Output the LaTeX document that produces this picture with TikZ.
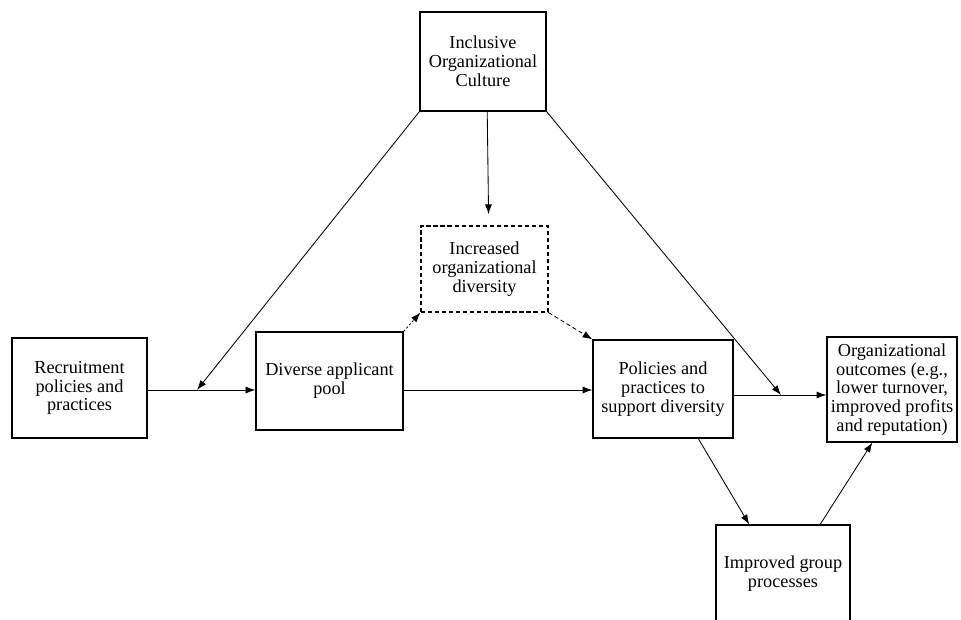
\documentclass[tikz,border=0pt]{standalone}
\usepackage{fontspec}
\setmainfont{Liberation Serif}
\usetikzlibrary{arrows.meta,calc,positioning}

\begin{document}
\begin{tikzpicture}[x=0.025cm, y=-0.025cm, >={Latex[length=7pt,width=5pt]}]
	\tikzstyle{every node}=[font=\fontsize{13}{13.4}\selectfont]
	\tikzstyle{box}=[draw, line width=0.8pt, align=center, inner sep=0pt]
	\tikzstyle{link}=[line width=0.6pt, ->]
	\useasboundingbox (0,0) rectangle (961,619);
	% boxes
	\node [box, minimum width=3.15cm, minimum height=2.475cm] (culture) at (483,61.5) {Inclusive\\Organizational\\Culture};
	\node [box, dashed, dash pattern=on 3pt off 2pt, minimum width=3.175cm, minimum height=2.15cm] (diversity) at (484.5,269) {Increased\\organizational\\diversity};
	\node [box, minimum width=3.375cm, minimum height=2.5cm] (recruit) at (79.5,388) {Recruitment\\policies and\\practices};
	\node [box, minimum width=3.675cm, minimum height=2.45cm] (pool) at (329.5,381) {Diverse applicant\\pool};
	\node [box, minimum width=3.5cm, minimum height=2.45cm] (support) at (663,389) {Policies and\\practices to\\support diversity};
	\node [box, minimum width=3.25cm, minimum height=2.625cm] (outcomes) at (892,389.5) {Organizational\\outcomes (e.g.,\\lower turnover,\\improved profits\\and reputation)};
	\node [box, minimum width=3.35cm, minimum height=2.45cm] (group) at (783,574) {Improved group\\processes};
	\coordinate (meet) at (197,390);
	\coordinate (join) at (781,395);
	% arrows
	\draw [link] (recruit.east |- meet) -- (pool.west |- meet);
	\draw [link] (pool.east |- meet) -- (support.west |- meet);
	\draw [link] (support.east |- join) -- (outcomes.west |- join);
	\draw [link] (culture.south west) -- (meet);
	\draw [link] (culture.south east) -- (join);
	\draw [link, shorten >=8pt] ([xshift=3pt]culture.south) -- ([xshift=3pt]diversity.north);
	\draw [link, dash pattern=on 1.5pt off 1.5pt] (pool.north east) -- (diversity.south west);
	\draw [link, dash pattern=on 3pt off 2pt] (diversity.south east) -- (support.north west);
	\draw [link] ($(support.south)!0.5!(support.south east)$) -- ($(group.north west)!0.5!(group.north)$);
	\draw [link] ($(group.north)!0.55!(group.north east)$) -- ($(outcomes.south west)!0.35!(outcomes.south east)$);
\end{tikzpicture}
\end{document}
